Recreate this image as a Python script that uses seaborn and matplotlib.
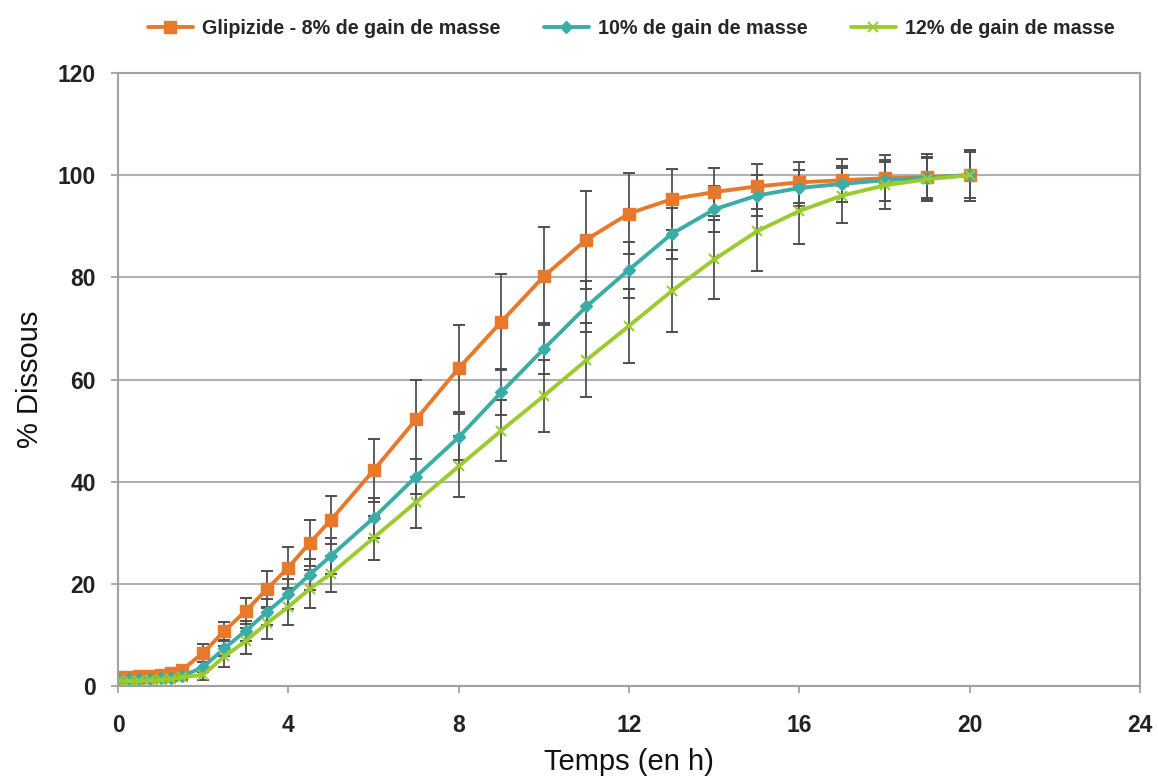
import matplotlib
matplotlib.use("Agg")
import matplotlib.pyplot as plt
import seaborn as sns
import pandas as pd
import numpy as np
from matplotlib.lines import Line2D

# ---- data ----
temps = [0, 0.25, 0.5, 0.75, 1, 1.25, 1.5, 2, 2.5, 3, 3.5, 4, 4.5, 5,
         6, 7, 8, 9, 10, 11, 12, 13, 14, 15, 16, 17, 18, 19, 20]
series_names = ["Glipizide - 8% de gain de masse",
                "10% de gain de masse",
                "12% de gain de masse"]
glip_8 = [1.8, 1.8, 1.9, 2.0, 2.1, 2.5, 3.1, 6.5, 10.8, 14.7, 19.0, 23.2, 28.0, 32.5,
          42.2, 52.2, 62.2, 71.3, 80.2, 87.4, 92.5, 95.3, 96.7, 97.8, 98.6, 99.0, 99.4, 99.6, 100.0]
glip_10 = [1.3, 1.3, 1.3, 1.4, 1.5, 1.6, 1.9, 3.7, 7.4, 10.8, 14.5, 18.0, 21.8, 25.5,
           32.9, 41.0, 48.7, 57.5, 66.0, 74.3, 81.5, 88.5, 93.3, 96.0, 97.5, 98.3, 99.0, 99.5, 100.0]
glip_12 = [1.0, 1.0, 1.0, 1.1, 1.2, 1.4, 1.7, 2.2, 5.8, 8.8, 12.3, 15.5, 19.0, 22.0,
           29.0, 36.0, 43.0, 50.0, 56.8, 63.8, 70.5, 77.3, 83.5, 89.0, 93.0, 96.0, 98.0, 99.2, 100.0]
err_8 = [0.5, 0.5, 0.5, 0.5, 0.5, 0.6, 0.8, 1.8, 1.8, 2.5, 3.5, 4.0, 4.5, 4.7,
         6.2, 7.7, 8.5, 9.4, 9.6, 9.6, 8.0, 6.0, 4.7, 4.4, 4.0, 4.2, 4.5, 4.5, 5.0]
err_10 = [0.4, 0.4, 0.4, 0.4, 0.4, 0.5, 0.6, 1.0, 1.5, 2.0, 2.5, 3.0, 3.0, 3.5,
          4.0, 3.5, 4.5, 4.5, 5.0, 5.0, 5.5, 5.0, 4.5, 4.0, 3.5, 3.5, 4.0, 4.0, 4.5]
err_12 = [0.4, 0.4, 0.4, 0.4, 0.4, 0.5, 0.6, 1.0, 2.0, 2.5, 3.0, 3.5, 3.8, 3.5,
          4.3, 5.0, 6.0, 6.0, 7.0, 7.2, 7.3, 8.0, 7.7, 7.8, 6.5, 5.4, 4.6, 4.2, 5.0]
x_ticks = [0, 4, 8, 12, 16, 20, 24]
y_ticks = [0, 20, 40, 60, 80, 100, 120]

values = [glip_8, glip_10, glip_12]
errors = [err_8, err_10, err_12]
colors = ["#E8792A", "#3AADA6", "#9BCB2E"]
markers = ["s", "D", "x"]
msizes = [9, 6, 7]

sns.set_theme(style="white")
plt.rcParams['font.family'] = ['Liberation Sans', 'DejaVu Sans']

fig = plt.figure(figsize=(11.58, 7.81), dpi=100)
ax = fig.add_axes([0.1019, 0.1216, 0.8826, 0.7849])

# error bars (behind lines)
for v, e in zip(values, errors):
    ax.errorbar(temps, v, yerr=e, fmt="none", ecolor="#505050", elinewidth=1.3,
                capsize=4, capthick=1.4, zorder=1.5)

for name, v, c, m, ms in zip(series_names, values, colors, markers, msizes):
    d = pd.DataFrame({"Temps": temps, "Dissous": v})
    sns.lineplot(data=d, x="Temps", y="Dissous", color=c, marker=m, markersize=ms,
                 markeredgecolor=c, markerfacecolor=c,
                 markeredgewidth=(1.5 if m == "x" else 1),
                 linewidth=2.8, ax=ax, zorder=2)

handles = [Line2D([0], [0], color=c, marker=m, markersize=ms, linewidth=2.8,
                  markeredgecolor=c, markerfacecolor=c,
                  markeredgewidth=(1.5 if m == "x" else 1))
           for c, m, ms in zip(colors, markers, msizes)]
fig.legend(handles, series_names, loc="center", bbox_to_anchor=(0.545, 0.964),
           ncol=3, frameon=False, handlelength=2.3, columnspacing=2.2,
           handletextpad=0.45, prop={"size": 14.2, "weight": "bold"})

ax.set_xlim(0, 24)
ax.set_ylim(0, 120)
ax.set_xticks(x_ticks)
ax.set_yticks(y_ticks)
ax.set_xticklabels([str(t) for t in x_ticks], fontsize=16.5, fontweight="bold", color="#222222")
ax.set_yticklabels([str(t) for t in y_ticks], fontsize=16.5, fontweight="bold", color="#222222")
ax.tick_params(axis="both", direction="out", length=5, width=1.2, color="#999999",
               bottom=True, left=True)
ax.tick_params(axis="x", pad=15)
ax.tick_params(axis="y", pad=11)
ax.yaxis.grid(True, color="#b0b0b0", linewidth=1.5)
ax.xaxis.grid(False)
ax.set_axisbelow(True)
for s in ax.spines.values():
    s.set_color("#a0a0a0")
    s.set_linewidth(1.5)

ax.set_xlabel("Temps (en h)", fontsize=21, color="#111111", labelpad=8)
ax.set_ylabel("% Dissous", fontsize=21, color="#111111", labelpad=10)

fig.savefig("out.png", dpi=100)
